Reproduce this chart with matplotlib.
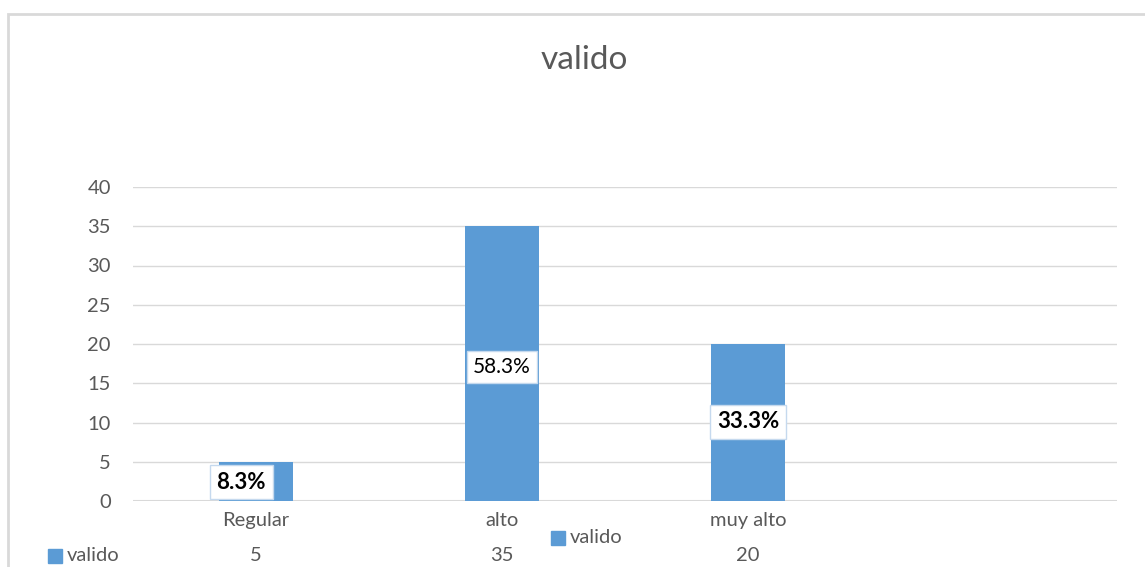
import matplotlib.pyplot as plt
from matplotlib.patches import Rectangle

categories = ['Regular', 'alto', 'muy alto', '']
values = [5, 35, 20]
table_values = ['5', '35', '20', '']
label_y = [2.4, 17.1, 10.1]
label_bold = [True, False, True]
series_name = 'valido'

bar_color = '#5b9bd5'
text_color = '#595959'
grid_color = '#d9d9d9'

plt.rcParams['font.family'] = ['Lato', 'DejaVu Sans']

fig = plt.figure(figsize=(11.45, 5.67), dpi=100)
ax = fig.add_axes([133 / 1145, 1 - 501 / 567, 984 / 1145, 314 / 567])

# outer chart border
fig.patches.append(Rectangle((8 / 1145, -0.2), 1.2, 1.2 - 14 / 567,
                             transform=fig.transFigure, fill=False,
                             edgecolor='#d9d9d9', linewidth=2))

x = list(range(len(values)))
ax.bar(x, values, width=0.3, color=bar_color, zorder=2)

total = sum(values)
for i, v in enumerate(values):
    pct = f'{v / total * 100:.1f}%'
    bold = label_bold[i]
    ax.text(i - (0.06 if i == 0 else 0), label_y[i], pct, ha='center', va='center',
            fontsize=16 if bold else 15, color='black',
            fontweight='bold' if bold else 'normal', zorder=4,
            bbox=dict(boxstyle='square,pad=0.3', facecolor='white',
                      edgecolor='#c5d9ee', linewidth=1))

ax.set_xlim(-0.5, 3.5)
ax.set_ylim(0, 40)
ax.set_yticks(range(0, 41, 5))
ax.yaxis.grid(True, color=grid_color, linewidth=1, zorder=0)
ax.set_axisbelow(True)
for s in ax.spines.values():
    s.set_visible(False)
ax.axhline(0, color=grid_color, linewidth=1.5, zorder=1)
ax.tick_params(axis='y', length=0, labelsize=14.5, labelcolor=text_color, pad=16)
ax.set_xticks(range(4))
ax.set_xticklabels(categories)
ax.tick_params(axis='x', length=0, labelsize=14.5, labelcolor=text_color, pad=8)

# data table row below the axis
for i, t in enumerate(table_values):
    ax.text(i, -7.0, t, ha='center', va='center', fontsize=14.5,
            color=text_color, clip_on=False)
ax.text(-0.768, -7.0, series_name, ha='left', va='center', fontsize=14.5,
        color=text_color, clip_on=False)
ax.add_patch(Rectangle((-0.845, -7.9), 0.057, 1.8, color=bar_color, clip_on=False))

# legend
ax.text(1.276, -4.7, series_name, ha='left', va='center', fontsize=14.5,
        color=text_color, clip_on=False)
ax.add_patch(Rectangle((1.199, -5.6), 0.057, 1.8, color=bar_color, clip_on=False))

fig.text(584 / 1145, 1 - 60 / 567, 'valido', ha='center', va='center',
         fontsize=24, color=text_color)

fig.savefig('out.png', dpi=100)
